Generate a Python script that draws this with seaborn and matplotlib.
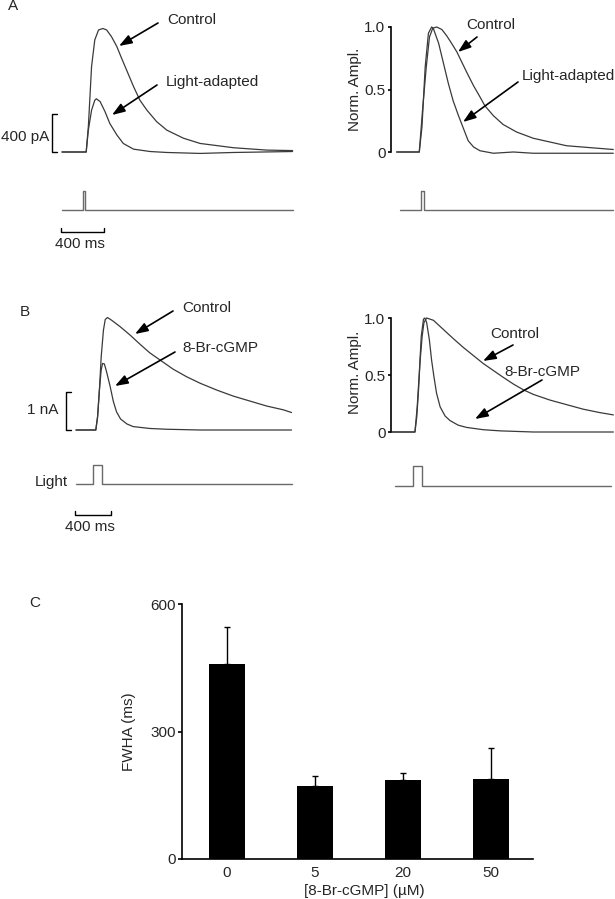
import matplotlib
matplotlib.use('Agg')
import matplotlib.pyplot as plt
from matplotlib.patches import FancyArrowPatch
import seaborn as sns

# ---- panel A, left: raw currents (time in ms, current in pA) ----
ctrl_a_t = [0, 225, 245, 275, 305, 340, 380, 415, 460, 510, 555, 600, 665, 725, 790,
            880, 975, 1130, 1285, 1595, 1905, 2145]
ctrl_a_pa = [0, 0, 265, 900, 1180, 1285, 1300, 1285, 1215, 1110, 985, 865, 690, 545, 440,
             320, 230, 145, 90, 45, 20, 15]
la_a_t = [0, 225, 245, 275, 305, 320, 355, 400, 445, 510, 570, 665, 820, 975, 1285, 1595, 2145]
la_a_pa = [0, 0, 230, 440, 545, 560, 530, 425, 300, 180, 90, 30, 5, -5, -15, -5, 5]
stim_a_t = [0, 195, 195, 215, 215, 2145]
stim_a_v = [0, 0, 1, 1, 0, 0]

# ---- panel A, right: normalised ----
ctrl_an_t = [0, 210, 240, 275, 305, 335, 372, 420, 465, 510, 560, 605, 650, 715, 775,
             820, 900, 990, 1115, 1270, 1580, 2015]
ctrl_an = [0, 0, 0.33, 0.68, 0.92, 0.99, 1.0, 0.98, 0.93, 0.87, 0.8, 0.72, 0.64, 0.53, 0.44,
           0.37, 0.29, 0.22, 0.16, 0.11, 0.05, 0.02]
la_an_t = [0, 210, 235, 265, 295, 325, 340, 390, 435, 480, 525, 575, 620, 665, 715,
           775, 900, 1085, 1270, 1580, 2015]
la_an = [0, 0, 0.2, 0.68, 0.95, 1.0, 0.99, 0.87, 0.71, 0.55, 0.41, 0.29, 0.19, 0.09, 0.04,
         0.01, -0.01, 0, -0.01, -0.01, -0.01]
stim_an_t = [30, 230, 230, 255, 255, 2015]
stim_an_v = [0, 0, 1, 1, 0, 0]

# ---- panel B, left: raw currents (nA) ----
ctrl_b_t = [0, 220, 240, 260, 280, 305, 325, 350, 395, 490, 600, 710, 820, 935, 1080,
            1230, 1380, 1565, 1750, 1935, 2120, 2305, 2395]
ctrl_b_na = [0, 0, 0.35, 1.05, 1.93, 2.63, 2.91, 2.96, 2.89, 2.72, 2.5, 2.26, 2.03, 1.84, 1.6,
             1.4, 1.23, 1.05, 0.89, 0.76, 0.63, 0.53, 0.46]
br_b_t = [0, 220, 240, 260, 280, 295, 315, 340, 380, 415, 450, 495, 565, 635, 820, 1005, 1380, 2395]
br_b_na = [0, 0, 0.35, 1.05, 1.58, 1.75, 1.74, 1.53, 1.14, 0.75, 0.48, 0.29, 0.16, 0.09,
           0.04, 0.02, 0, 0]
stim_b_t = [0, 190, 190, 290, 290, 2400]
stim_b_v = [0, 0, 1, 1, 0, 0]

# ---- panel B, right: normalised ----
ctrl_bn_t = [0, 255, 275, 295, 310, 335, 355, 385, 460, 570, 680, 795, 905, 1015, 1125,
             1235, 1350, 1460, 1570, 1755, 1940, 2125, 2310, 2460]
ctrl_bn = [0, 0, 0.13, 0.37, 0.6, 0.84, 0.96, 1.0, 0.98, 0.9, 0.82, 0.74, 0.67, 0.6, 0.54,
           0.48, 0.42, 0.37, 0.33, 0.28, 0.24, 0.2, 0.17, 0.15]
br_bn_t = [0, 255, 280, 305, 325, 350, 365, 385, 415, 440, 465, 495, 535, 590, 645,
           735, 830, 1015, 1200, 1570, 2460]
br_bn = [0, 0, 0.22, 0.54, 0.84, 0.99, 1.0, 0.96, 0.81, 0.63, 0.49, 0.34, 0.22, 0.14, 0.1,
         0.06, 0.04, 0.02, 0.01, 0, 0]
stim_bn_t = [35, 235, 235, 335, 335, 2435]
stim_bn_v = [0, 0, 1, 1, 0, 0]

# ---- panel C: FWHA vs 8-Br-cGMP ----
conc = ['0', '5', '20', '50']
fwha = [459, 172, 186, 188]
fwha_err = [87, 23, 16, 73]

sns.set_theme(style='ticks')
plt.rcParams['font.family'] = ['Liberation Sans', 'DejaVu Sans']
plt.rcParams['font.size'] = 11

W, H = 615, 899
fig = plt.figure(figsize=(W / 100, H / 100), dpi=100)

TRACE = '#3a3a3a'
STIM = '#6a6a6a'


def px_axes(box, xref, yref):
    # box in image pixels (left, top, right, bottom); refs map pixel -> data
    l, t, r, b = box
    ax = fig.add_axes([l / W, 1 - b / H, (r - l) / W, (b - t) / H])
    (p1, v1), (p2, v2) = xref
    k = (v2 - v1) / (p2 - p1)
    ax.set_xlim(v1 + (l - p1) * k, v1 + (r - p1) * k)
    (q1, w1), (q2, w2) = yref
    k = (w2 - w1) / (q2 - q1)
    ax.set_ylim(w1 + (b - q1) * k, w1 + (t - q1) * k)
    return ax


def ftext(x, y, s, **kw):
    kw.setdefault('ha', 'left')
    kw.setdefault('va', 'center')
    fig.text(x / W, 1 - y / H, s, fontsize=11, **kw)


def farrow(x0, y0, x1, y1):
    fig.add_artist(FancyArrowPatch((x0 / W, 1 - y0 / H), (x1 / W, 1 - y1 / H),
                                   transform=fig.transFigure,
                                   arrowstyle='-|>,head_length=0.7,head_width=0.25',
                                   mutation_scale=11, lw=1.2, color='black',
                                   shrinkA=0, shrinkB=0))


def trace(ax, t, v, color=TRACE, lw=0.9):
    sns.lineplot(x=t, y=v, ax=ax, color=color, lw=lw, estimator=None, sort=False)


def norm_axis(ax):
    for s in ['top', 'right', 'bottom']:
        ax.spines[s].set_visible(False)
    ax.spines['left'].set_bounds(0, 1)
    ax.spines['left'].set_linewidth(1.2)
    ax.spines['left'].set_color('black')
    ax.set_xticks([])
    ax.set_yticks([0, 0.5, 1])
    ax.set_yticklabels(['0', '0.5', '1.0'])
    ax.tick_params(axis='y', direction='out', length=2.5, width=1.2, pad=1.5,
                   labelsize=11, color='black')
    ax.set_ylabel('Norm. Ampl.', fontsize=11, labelpad=2)
    ax.patch.set_alpha(0)


# ===== A left =====
xa = ((62, 0), (105, 400))
ax = px_axes((0, 0, 305, 170), xa, ((152, 0), (114, 400)))
ax.set_axis_off()
trace(ax, ctrl_a_t, ctrl_a_pa)
trace(ax, la_a_t, la_a_pa)
ax.plot([-46, -93, -93, -46], [400, 400, 0, 0], color='black', lw=1.0)

ax = px_axes((0, 175, 305, 245), xa, ((210, 0), (191, 1)))
ax.set_axis_off()
trace(ax, stim_a_t, stim_a_v, color=STIM, lw=1.0)
ax.plot([-10, -10, 390, 390], [-0.95, -1.16, -1.16, -0.95], color='black', lw=1.0)

# ===== A right =====
xan = ((396.7, 0), (439.7, 400))
ax = px_axes((391, 10, 615, 168), xan, ((152, 0), (27, 1)))
norm_axis(ax)
trace(ax, ctrl_an_t, ctrl_an)
trace(ax, la_an_t, la_an)

ax = px_axes((391, 180, 615, 225), xan, ((210, 0), (191, 1)))
ax.set_axis_off()
trace(ax, stim_an_t, stim_an_v, color=STIM, lw=1.0)

# ===== B left =====
xb = ((76, 0), (112, 400))
ax = px_axes((0, 290, 305, 445), xb, ((430, 0), (392, 1)))
ax.set_axis_off()
trace(ax, ctrl_b_t, ctrl_b_na)
trace(ax, br_b_t, br_b_na)
ax.plot([-55, -111, -111, -55], [1, 1, 0, 0], color='black', lw=1.0)

ax = px_axes((0, 455, 305, 535), xb, ((484, 0), (465, 1)))
ax.set_axis_off()
trace(ax, stim_b_t, stim_b_v, color=STIM, lw=1.0)
ax.plot([-11, -11, 389, 389], [-1.42, -1.63, -1.63, -1.42], color='black', lw=1.0)

# ===== B right =====
xbn = ((392, 0), (428, 400))
ax = px_axes((391, 300, 615, 445), xbn, ((432, 0), (318, 1)))
norm_axis(ax)
trace(ax, ctrl_bn_t, ctrl_bn)
trace(ax, br_bn_t, br_bn)

ax = px_axes((391, 455, 615, 500), xbn, ((486, 0), (466, 1)))
ax.set_axis_off()
trace(ax, stim_bn_t, stim_bn_v, color=STIM, lw=1.0)

# ===== C =====
axc = fig.add_axes([182 / W, 1 - 859 / H, (533 - 182) / W, (859 - 604) / H])
sns.barplot(x=conc, y=fwha, color='black', saturation=1, width=0.4, errorbar=None,
            linewidth=0, ax=axc)
axc.errorbar(range(len(conc)), fwha, yerr=[[0] * len(conc), fwha_err], fmt='none',
             ecolor='black', elinewidth=1.0, capsize=2, capthick=1.0)
axc.set_xlim(-45 / 88, 306 / 88)
axc.set_ylim(0, 600)
axc.set_yticks([0, 300, 600])
sns.despine(ax=axc)
axc.spines['left'].set_bounds(0, 600)
for s in ['left', 'bottom']:
    axc.spines[s].set_linewidth(1.2)
    axc.spines[s].set_color('black')
axc.tick_params(axis='y', direction='out', length=3, width=1.2, pad=1.5, labelsize=11,
                color='black')
axc.tick_params(axis='x', length=0, pad=5, labelsize=11)
axc.set_ylabel('FWHA (ms)', fontsize=11, labelpad=10)
axc.set_xlabel('[8-Br-cGMP] (µM)', fontsize=11)
axc.xaxis.set_label_coords((364 - 182) / 351, -0.1)

# ===== annotations, labels =====
ftext(13, 6, 'A', ha='center')
ftext(25, 312, 'B', ha='center')
ftext(35, 603, 'C', ha='center')

ftext(49, 137, '400 pA', ha='right')
ftext(80, 244, '400 ms', ha='center')
ftext(58, 410, '1 nA', ha='right')
ftext(68, 482, 'Light', ha='right')
ftext(90, 527, '400 ms', ha='center')

ftext(167, 20, 'Control')
farrow(158, 23, 119, 46)
ftext(166, 82, 'Light-adapted')
farrow(157, 85, 112, 115)

ftext(466, 25, 'Control')
farrow(477, 37, 458, 52)
ftext(522, 76, 'Light-adapted')
farrow(518, 82, 463, 122)

ftext(182, 308, 'Control')
farrow(173, 311, 135, 334)
ftext(182, 348, '8-Br-cGMP')
farrow(175, 352, 115, 386)

ftext(490, 334, 'Control')
farrow(513, 345, 483, 361)
ftext(504, 372, '8-Br-cGMP')
farrow(542, 380, 475, 419)

fig.savefig('out.png', dpi=100)
